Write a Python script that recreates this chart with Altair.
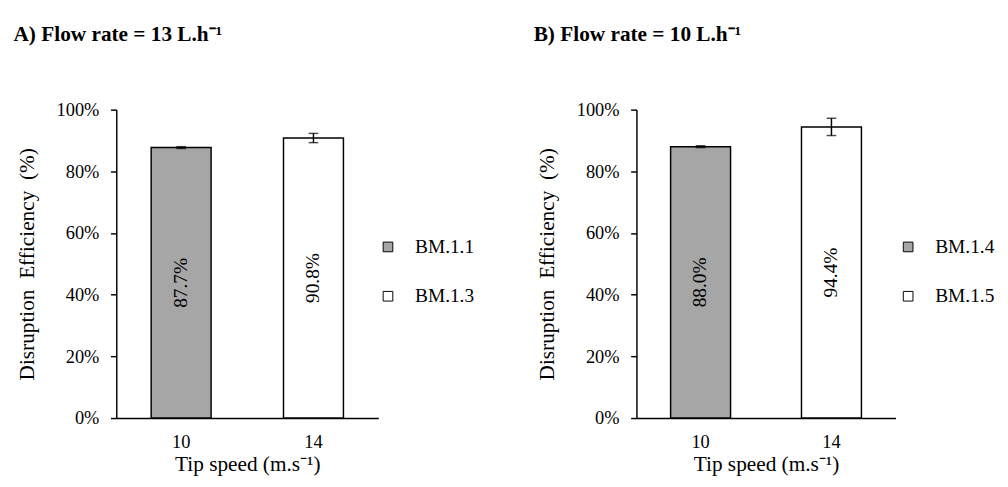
import altair as alt
import pandas as pd

speeds = ["10", "14"]
a_names = ["BM.1.1", "BM.1.3"]
a_vals = [0.877, 0.908]
a_err = [0.003, 0.015]
b_names = ["BM.1.4", "BM.1.5"]
b_vals = [0.880, 0.944]
b_err = [0.003, 0.028]
fills = ["#a6a6a6", "#ffffff"]
y_ticks = [0, 0.2, 0.4, 0.6, 0.8, 1.0]

FONT = "Liberation Serif"


def panel(names, vals, errs, title, width):
    df = pd.DataFrame({
        "speed": speeds,
        "name": names,
        "val": vals,
        "half": [v / 2 for v in vals],
        "lo": [v - e for v, e in zip(vals, errs)],
        "hi": [v + e for v, e in zip(vals, errs)],
        "label": [f"{v*100:.1f}%" for v in vals],
    })
    base = alt.Chart(df)
    x = alt.X("speed:N", sort=speeds, scale=alt.Scale(paddingInner=0.5, paddingOuter=0.24),
              axis=alt.Axis(title="Tip speed (m.s\u207b\u00b9)", labelAngle=0, ticks=False,
                            labelPadding=15, titlePadding=3, domainColor="black",
                            domainWidth=1.5))
    y = alt.Y("val:Q", scale=alt.Scale(domain=[0, 1], nice=False),
              axis=alt.Axis(title="Disruption\u00a0 Efficiency\u00a0 (%)", format=".0%",
                            values=y_ticks, grid=False, tickSize=6, tickColor="black",
                            tickWidth=1.5, domainColor="black", domainWidth=1.5,
                            labelPadding=12, titlePadding=18))
    bars = base.mark_bar(stroke="black", strokeWidth=1.5, size=62).encode(
        x=x, y=y,
        color=alt.Color("name:N", scale=alt.Scale(domain=names, range=fills),
                        legend=alt.Legend(title=None, orient="none", legendX=271, legendY=132,
                                          symbolType="square", symbolSize=100,
                                          symbolStrokeColor="black", symbolStrokeWidth=1,
                                          labelFontSize=20, labelFont=FONT, labelColor="black",
                                          rowPadding=31, labelOffset=18)),
    )
    rule = base.mark_rule(color="black", strokeWidth=1.5).encode(
        x=alt.X("speed:N", sort=speeds), y="lo:Q", y2="hi:Q")
    cap_lo = base.mark_tick(color="black", thickness=1.5, size=10, orient="horizontal").encode(
        x=alt.X("speed:N", sort=speeds), y="lo:Q")
    cap_hi = base.mark_tick(color="black", thickness=1.5, size=10, orient="horizontal").encode(
        x=alt.X("speed:N", sort=speeds), y="hi:Q")
    text = base.mark_text(angle=270, fontSize=20, font=FONT, color="black").encode(
        x=alt.X("speed:N", sort=speeds), y="half:Q", text="label:N")
    return alt.layer(bars, rule, cap_lo, cap_hi, text).properties(
        width=width, height=319,
        title=alt.TitleParams(title, anchor="start", frame="bounds", fontSize=22,
                              fontWeight="bold", font=FONT, color="black", offset=57, dx=-3),
    )


pa = panel(a_names, a_vals, a_err, "A) Flow rate = 13 L.h\u207b\u00b9", 271)
pb = panel(b_names, b_vals, b_err, "B) Flow rate = 10 L.h\u207b\u00b9", 268)

chart = alt.hconcat(pa, pb, spacing=60).resolve_scale(
    color="independent", y="independent", x="independent"
).resolve_legend(color="independent").properties(
    padding={"left": 5, "top": 8, "right": 5, "bottom": 0}
).configure(
    background="white",
    view=alt.ViewConfig(stroke=None),
    axis=alt.AxisConfig(labelFont=FONT, titleFont=FONT, labelFontSize=19, titleFontSize=22,
                        labelColor="black", titleColor="black", titleFontWeight="normal"),
)

chart.save("out.html", embed_options={"renderer": "svg", "actions": False})
